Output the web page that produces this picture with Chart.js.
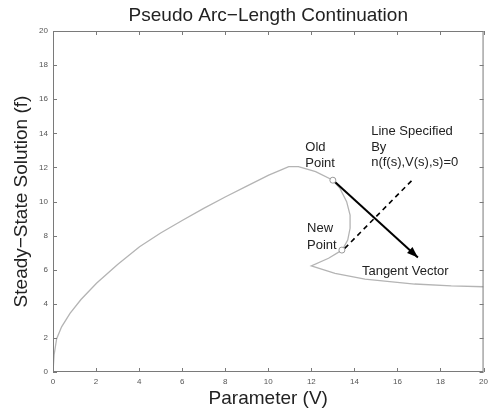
<!DOCTYPE html>
<html>
<head>
<meta charset="utf-8">
<script src="https://cdn.jsdelivr.net/npm/chart.js@4"></script>
<style>
html,body{margin:0;padding:0;background:#fff;}
#wrap{width:493px;height:412px;}
</style>
</head>
<body>
<div id="wrap"><canvas id="c" width="493" height="412"></canvas></div>
<script>
// Solution branch (parameter V, steady-state f)
const branchV = [0, 0.05, 0.17, 0.4, 0.79, 1.3, 2.02, 3, 4.02, 5, 6.02, 7, 8.02, 9, 10.02, 10.6, 10.95, 11.4, 12.2, 12.98, 13.33, 13.64, 13.8, 13.8, 13.69, 13.44, 12.8, 12.0, 13.1, 14.49, 16.8, 18.5, 20];
const branchF = [0, 1.0, 1.95, 2.65, 3.44, 4.25, 5.2, 6.3, 7.35, 8.15, 8.9, 9.6, 10.28, 10.9, 11.55, 11.85, 12.04, 12.04, 11.75, 11.26, 10.77, 9.99, 9.2, 8.43, 7.74, 7.16, 6.67, 6.22, 5.79, 5.45, 5.16, 5.05, 5.0];
// Marked points: old point, new point
const markV = [13.0, 13.42];
const markF = [11.25, 7.15];
// Tangent vector (start, tip)
const tangentV = [13.1, 16.95];
const tangentF = [11.15, 6.72];
// Dashed line (start, end)
const dashV = [13.55, 16.72];
const dashF = [7.25, 11.3];
// Axis ticks
const xTicks = [0, 2, 4, 6, 8, 10, 12, 14, 16, 18, 20];
const yTicks = [0, 2, 4, 6, 8, 10, 12, 14, 16, 18, 20];
// Texts
const chartTitle = 'Pseudo Arc\u2212Length Continuation';
const noteText = ["Old", "Point", "Line Specified", "By", "n(f(s),V(s),s)=0", "New", "Point", "Tangent Vector"];
const noteV = [11.72, 11.72, 14.78, 14.78, 14.78, 11.8, 11.8, 14.35];
const noteF = [13.17, 12.26, 14.13, 13.2, 12.32, 8.45, 7.45, 5.87];

const FONT = "'Liberation Sans', Arial, Helvetica, sans-serif";
const zip = (a, b) => a.map((v, i) => ({x: v, y: b[i]}));

const boxPlugin = {
  id: 'box',
  afterDraw(chart) {
    const {ctx, chartArea: a, scales: {x, y}} = chart;
    ctx.save();
    ctx.strokeStyle = '#7a7a7a';
    ctx.lineWidth = 1;
    ctx.strokeRect(a.left + 0.5, a.top + 0.5, a.right - a.left - 1, a.bottom - a.top - 1);
    ctx.beginPath();
    const L = 4;
    xTicks.forEach(t => {
      const px = Math.round(x.getPixelForValue(t)) + 0.5;
      ctx.moveTo(px, a.bottom); ctx.lineTo(px, a.bottom - L);
      ctx.moveTo(px, a.top); ctx.lineTo(px, a.top + L);
    });
    yTicks.forEach(t => {
      const py = Math.round(y.getPixelForValue(t)) + 0.5;
      ctx.moveTo(a.left, py); ctx.lineTo(a.left + L, py);
      ctx.moveTo(a.right, py); ctx.lineTo(a.right - L, py);
    });
    ctx.stroke();
    // title centred over the axes
    ctx.fillStyle = '#222';
    ctx.font = '19px ' + FONT;
    ctx.textAlign = 'center';
    ctx.textBaseline = 'middle';
    ctx.fillText(chartTitle, (a.left + a.right) / 2, 15.5);
    ctx.restore();
  },
  afterDatasetsDraw(chart) {
    const {ctx, scales: {x, y}} = chart;
    ctx.save();
    const x0 = x.getPixelForValue(tangentV[0]), y0 = y.getPixelForValue(tangentF[0]);
    const x1 = x.getPixelForValue(tangentV[1]), y1 = y.getPixelForValue(tangentF[1]);
    const ang = Math.atan2(y1 - y0, x1 - x0);
    const len = 11, w = 4;
    ctx.fillStyle = '#000';
    ctx.beginPath();
    ctx.moveTo(x1, y1);
    ctx.lineTo(x1 - len * Math.cos(ang) + w * Math.sin(ang), y1 - len * Math.sin(ang) - w * Math.cos(ang));
    ctx.lineTo(x1 - len * Math.cos(ang) - w * Math.sin(ang), y1 - len * Math.sin(ang) + w * Math.cos(ang));
    ctx.closePath();
    ctx.fill();
    ctx.fillStyle = '#222';
    ctx.font = '13px ' + FONT;
    ctx.textAlign = 'left';
    ctx.textBaseline = 'middle';
    noteText.forEach((t, i) => {
      ctx.fillText(t, x.getPixelForValue(noteV[i]), y.getPixelForValue(noteF[i]));
    });
    ctx.restore();
  }
};

new Chart(document.getElementById('c'), {
  type: 'scatter',
  data: {
    datasets: [
      {data: zip(branchV, branchF), showLine: true, borderColor: '#b4b4b4', borderWidth: 1.3, pointRadius: 0, tension: 0, order: 4},
      {data: zip(tangentV, tangentF), showLine: true, borderColor: '#000', borderWidth: 2, pointRadius: 0, order: 3},
      {data: zip(dashV, dashF), showLine: true, borderColor: '#000', borderWidth: 1.6, borderDash: [5, 4], pointRadius: 0, order: 2},
      {data: zip(markV, markF), showLine: false, pointRadius: 3, pointBorderWidth: 1, pointBorderColor: '#999', pointBackgroundColor: '#fff', order: 1}
    ]
  },
  options: {
    responsive: false,
    animation: false,
    devicePixelRatio: 1,
    layout: {padding: {left: 0, right: 8, top: 31, bottom: 0}},
    plugins: {
      legend: {display: false},
      tooltip: {enabled: false},
      title: {display: false}
    },
    scales: {
      x: {
        type: 'linear', min: 0, max: 20,
        afterFit(s) { s.height = 40; },
        afterBuildTicks(s) { s.ticks = xTicks.map(v => ({value: v})); },
        ticks: {color: '#555', font: {family: FONT, size: 8}, padding: 5, maxRotation: 0, autoSkip: false},
        grid: {display: true, drawOnChartArea: false, drawTicks: false},
        border: {display: false},
        title: {display: true, text: 'Parameter (V)', color: '#222', font: {family: FONT, size: 19, lineHeight: 1.2}, padding: {top: 0, bottom: 2}}
      },
      y: {
        type: 'linear', min: 0, max: 20,
        afterFit(s) { s.width = 53; },
        afterBuildTicks(s) { s.ticks = yTicks.map(v => ({value: v})); },
        ticks: {color: '#555', font: {family: FONT, size: 8}, padding: 5, autoSkip: false},
        grid: {display: true, drawOnChartArea: false, drawTicks: false},
        border: {display: false},
        title: {display: true, text: 'Steady\u2212State Solution (f)', color: '#222', font: {family: FONT, size: 19, lineHeight: 1.2}, padding: {top: 10, bottom: 0}}
      }
    }
  },
  plugins: [boxPlugin]
});
</script>
</body>
</html>
